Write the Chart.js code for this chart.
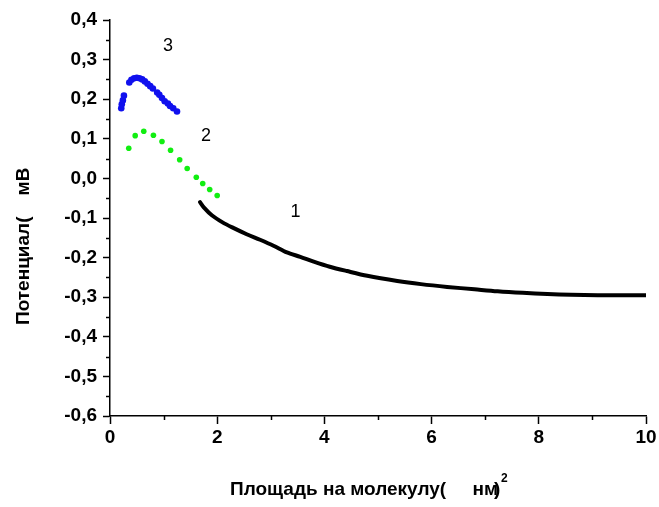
<!DOCTYPE html>
<html>
<head>
<meta charset="utf-8">
<script src="https://cdn.jsdelivr.net/npm/chart.js@4.4.0/dist/chart.umd.min.js"></script>
<style>
  body { margin: 0; background: #fff; }
</style>
</head>
<body>
<canvas id="mycanvas" width="659" height="507"></canvas>
<script>
// curve 1 (black line)
var blackX = [1.68, 1.75, 1.9, 2.1, 2.3, 2.55, 2.8, 3.05, 3.3, 3.55, 3.8, 4.1, 4.42, 4.8, 5.36, 5.8, 6.29, 6.8, 7.23, 7.7, 8.16, 8.6, 9.1, 9.5, 10];
var blackY = [-0.060, -0.073, -0.093, -0.111, -0.125, -0.141, -0.155, -0.170, -0.187, -0.198, -0.210, -0.223, -0.234, -0.246, -0.259, -0.267, -0.274, -0.280, -0.285, -0.289, -0.292, -0.294, -0.295, -0.295, -0.295];

// curve 2 (green dots)
var greenX = [0.35, 0.47, 0.63, 0.81, 0.97, 1.13, 1.30, 1.44, 1.61, 1.73, 1.86, 2.00];
var greenY = [0.076, 0.108, 0.119, 0.109, 0.093, 0.071, 0.047, 0.025, 0.003, -0.013, -0.028, -0.043];

// curve 3 (blue dots)
var blueX = [0.21, 0.22, 0.24, 0.26, 0.36, 0.40, 0.45, 0.50, 0.55, 0.60, 0.65, 0.70, 0.75, 0.80, 0.88, 0.92, 0.97, 1.02, 1.08, 1.12, 1.18, 1.25];
var blueY = [0.177, 0.187, 0.197, 0.209, 0.242, 0.249, 0.253, 0.254, 0.253, 0.250, 0.245, 0.239, 0.233, 0.227, 0.217, 0.211, 0.203, 0.195, 0.189, 0.183, 0.177, 0.169];

// curve numbers and where they sit
var curveLabels = ['1', '2', '3'];
var curveLabelX = [3.46, 1.79, 1.08];
var curveLabelY = [-0.084, 0.108, 0.334];

var xTitle = 'Площадь на молекулу(     нм';
var yTitle = 'Потенциал(    мВ';

function toPoints(xs, ys) {
    var pts = [];
    for (var i in xs) {
        pts.push({x: xs[i], y: ys[i]});
    }
    return pts;
}

var FONT = 'Arial, "Liberation Sans", sans-serif';

var extrasPlugin = {
    id: 'extras',
    afterDraw: function(chart) {
        var ctx = chart.ctx;
        var xs = chart.scales.x, ys = chart.scales.y;
        var area = chart.chartArea;
        ctx.save();
        ctx.strokeStyle = '#000';
        ctx.lineWidth = 1.5;
        // minor ticks
        for (var v = -0.55; v < 0.4; v += 0.1) {
            var py = Math.round(ys.getPixelForValue(v)) + 0.5;
            ctx.beginPath();
            ctx.moveTo(area.left - 4, py);
            ctx.lineTo(area.left, py);
            ctx.stroke();
        }
        for (var u = 1; u < 10; u += 2) {
            var px = Math.round(xs.getPixelForValue(u)) + 0.5;
            ctx.beginPath();
            ctx.moveTo(px, area.bottom);
            ctx.lineTo(px, area.bottom + 4);
            ctx.stroke();
        }
        // curve numbers
        ctx.fillStyle = '#000';
        ctx.font = '18px ' + FONT;
        ctx.textAlign = 'center';
        ctx.textBaseline = 'middle';
        for (var i in curveLabels) {
            ctx.fillText(curveLabels[i], xs.getPixelForValue(curveLabelX[i]), ys.getPixelForValue(curveLabelY[i]));
        }
        // x title
        ctx.font = 'bold 19px ' + FONT;
        ctx.textAlign = 'left';
        ctx.textBaseline = 'alphabetic';
        var tx = area.left + 120, ty = area.bottom + 79;
        ctx.fillText(xTitle, tx, ty);
        var w = ctx.measureText(xTitle).width;
        ctx.fillText(')', tx + w - 4, ty);
        ctx.font = 'bold 12px ' + FONT;
        ctx.fillText('2', tx + w + 3, ty - 13);
        // y title
        ctx.translate(24, area.bottom - 91);
        ctx.rotate(-Math.PI / 2);
        ctx.font = 'bold 19px ' + FONT;
        ctx.textBaseline = 'middle';
        ctx.fillText(yTitle, 0, 0);
        ctx.restore();
    }
};

var chartdata = {
    datasets: [
        {
            label: '1',
            data: toPoints(blackX, blackY),
            showLine: true,
            borderColor: '#000',
            borderWidth: 4,
            borderCapStyle: 'round',
            pointRadius: 0,
            tension: 0.3
        },
        {
            label: '2',
            data: toPoints(greenX, greenY),
            backgroundColor: '#11ee11',
            borderWidth: 0,
            pointRadius: 2.8
        },
        {
            label: '3',
            data: toPoints(blueX, blueY),
            backgroundColor: '#1010ee',
            borderWidth: 0,
            pointRadius: 3.3
        }
    ]
};

var ctx = document.getElementById('mycanvas');
var graph = new Chart(ctx, {
    type: 'scatter',
    data: chartdata,
    plugins: [extrasPlugin],
    options: {
        responsive: false,
        animation: false,
        layout: {padding: {left: 0, right: 13, top: 20, bottom: 0}},
        plugins: {legend: {display: false}, tooltip: {enabled: false}},
        scales: {
            x: {
                type: 'linear',
                min: 0,
                max: 10,
                ticks: {
                    stepSize: 2,
                    color: '#000',
                    font: {family: FONT, size: 19, weight: 'bold'},
                    padding: 2,
                    maxRotation: 0
                },
                grid: {drawOnChartArea: false, tickLength: 8, color: '#000', tickWidth: 1.5},
                border: {color: '#000', width: 1.5},
                afterFit: function(scale) { scale.height = 91; }
            },
            y: {
                min: -0.6,
                max: 0.4,
                ticks: {
                    stepSize: 0.1,
                    color: '#000',
                    font: {family: FONT, size: 19, weight: 'bold'},
                    padding: 6,
                    callback: function(v) {
                        if (Math.abs(v) < 1e-9) v = 0;
                        return v.toFixed(1).replace('.', ',');
                    }
                },
                grid: {drawOnChartArea: false, tickLength: 7, color: '#000', tickWidth: 1.5},
                border: {color: '#000', width: 1.5},
                afterFit: function(scale) { scale.width = 110; }
            }
        }
    }
});
</script>
</body>
</html>
